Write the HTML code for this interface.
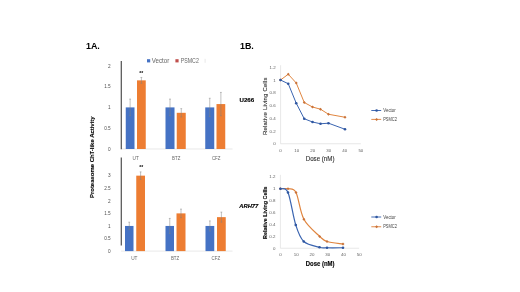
<!DOCTYPE html>
<html><head><meta charset="utf-8"><title>Figure 1</title>
<style>
html,body{margin:0;padding:0;background:#fff;}
body{width:520px;height:292px;overflow:hidden;}
svg{display:block;font-family:"Liberation Sans",sans-serif;}
.b{font-weight:bold;}
</style></head><body>
<svg width="520" height="292" viewBox="0 0 520 292">
<defs><filter id="soft" x="0" y="0" width="520" height="292" filterUnits="userSpaceOnUse"><feGaussianBlur stdDeviation="0.35"/></filter></defs>
<rect width="520" height="292" fill="#fff"/>
<g filter="url(#soft)">

<text class="b" x="86" y="49" font-size="8.9" fill="#000">1A.</text>
<text class="b" x="240" y="49" font-size="8.9" fill="#000">1B.</text>
<text class="b" transform="translate(93.9,198) rotate(-90)" textLength="81.6" lengthAdjust="spacingAndGlyphs" font-size="6.1" fill="#000" stroke="#000" stroke-width="0.1">Proteasome ChT-like Activity</text>
<rect x="147" y="59.2" width="3.2" height="3.2" fill="#4472c4"/>
<text x="151.8" y="63" font-size="6.4" textLength="17.5" lengthAdjust="spacingAndGlyphs" fill="#666">Vector</text>
<rect x="175.4" y="59.2" width="3.2" height="3.2" fill="#c0504d"/>
<text x="180.8" y="63" font-size="6.3" textLength="18" lengthAdjust="spacingAndGlyphs" fill="#666">PSMC2</text>
<rect x="204.8" y="58.8" width="0.5" height="4" fill="#d0d0d0"/>
<line x1="121" y1="149" x2="232.5" y2="149" stroke="#d9d9d9" stroke-width="0.6"/>
<rect x="125.75" y="107.4" width="8.75" height="41.6" fill="#4472c4"/>
<path d="M130.12 99.08V115.72M129.22 99.08h1.8M129.22 115.72h1.8" stroke="#808080" stroke-width="0.5" fill="none"/>
<rect x="137" y="80.36" width="8.75" height="68.64" fill="#ed7d31"/>
<path d="M141.38 77.45V83.27M140.47 77.45h1.8M140.47 83.27h1.8" stroke="#808080" stroke-width="0.5" fill="none"/>
<rect x="165.5" y="107.4" width="9" height="41.6" fill="#4472c4"/>
<path d="M170 99.08V115.72M169.1 99.08h1.8M169.1 115.72h1.8" stroke="#808080" stroke-width="0.5" fill="none"/>
<rect x="176.75" y="112.81" width="9" height="36.19" fill="#ed7d31"/>
<path d="M181.25 108.65V116.97M180.35 108.65h1.8M180.35 116.97h1.8" stroke="#808080" stroke-width="0.5" fill="none"/>
<rect x="205.25" y="107.4" width="9" height="41.6" fill="#4472c4"/>
<path d="M209.75 98.25V116.55M208.85 98.25h1.8M208.85 116.55h1.8" stroke="#808080" stroke-width="0.5" fill="none"/>
<rect x="216.5" y="104.07" width="8.75" height="44.93" fill="#ed7d31"/>
<path d="M220.88 92.42V115.72M219.97 92.42h1.8M219.97 115.72h1.8" stroke="#808080" stroke-width="0.5" fill="none"/>
<line x1="121.3" y1="61" x2="121.3" y2="149.3" stroke="#555" stroke-width="1.25"/>
<text x="110.7" y="150.7" text-anchor="end" font-size="4.7" fill="#505050">0</text>
<text x="110.7" y="129.9" text-anchor="end" font-size="4.7" fill="#505050">0.5</text>
<text x="110.7" y="109.1" text-anchor="end" font-size="4.7" fill="#505050">1</text>
<text x="110.7" y="88.3" text-anchor="end" font-size="4.7" fill="#505050">1.5</text>
<text x="110.7" y="67.5" text-anchor="end" font-size="4.7" fill="#505050">2</text>
<text x="132.55" y="160.3" textLength="6.3" lengthAdjust="spacingAndGlyphs" font-size="5.4" fill="#666">UT</text>
<text x="172.1" y="160.3" textLength="8.2" lengthAdjust="spacingAndGlyphs" font-size="5.4" fill="#666">BTZ</text>
<text x="211.9" y="160.3" textLength="8.6" lengthAdjust="spacingAndGlyphs" font-size="5.4" fill="#666">CFZ</text>
<text class="b" x="141.3" y="74.5" text-anchor="middle" font-size="5" fill="#000">**</text>
<line x1="121" y1="251.1" x2="232.5" y2="251.1" stroke="#d9d9d9" stroke-width="0.6"/>
<rect x="125" y="225.95" width="8.5" height="25.15" fill="#4472c4"/>
<path d="M129.25 222.18V229.72M128.35 222.18h1.8M128.35 229.72h1.8" stroke="#808080" stroke-width="0.5" fill="none"/>
<rect x="136.25" y="175.65" width="8.75" height="75.45" fill="#ed7d31"/>
<path d="M140.62 171.88V179.42M139.72 171.88h1.8M139.72 179.42h1.8" stroke="#808080" stroke-width="0.5" fill="none"/>
<rect x="165.5" y="225.95" width="8.5" height="25.15" fill="#4472c4"/>
<path d="M169.75 218.41V233.5M168.85 218.41h1.8M168.85 233.5h1.8" stroke="#808080" stroke-width="0.5" fill="none"/>
<rect x="176.5" y="213.38" width="9" height="37.72" fill="#ed7d31"/>
<path d="M181 209.1V217.65M180.1 209.1h1.8M180.1 217.65h1.8" stroke="#808080" stroke-width="0.5" fill="none"/>
<rect x="205.5" y="225.95" width="8.75" height="25.15" fill="#4472c4"/>
<path d="M209.88 220.92V230.98M208.97 220.92h1.8M208.97 230.98h1.8" stroke="#808080" stroke-width="0.5" fill="none"/>
<rect x="217" y="217.15" width="8.75" height="33.95" fill="#ed7d31"/>
<path d="M221.38 212.12V222.18M220.47 212.12h1.8M220.47 222.18h1.8" stroke="#808080" stroke-width="0.5" fill="none"/>
<line x1="121.3" y1="157.6" x2="121.3" y2="245.5" stroke="#555" stroke-width="1.25"/>
<text x="110.7" y="252.8" text-anchor="end" font-size="4.7" fill="#505050">0</text>
<text x="110.7" y="240.22" text-anchor="end" font-size="4.7" fill="#505050">0.5</text>
<text x="110.7" y="227.65" text-anchor="end" font-size="4.7" fill="#505050">1</text>
<text x="110.7" y="215.07" text-anchor="end" font-size="4.7" fill="#505050">1.5</text>
<text x="110.7" y="202.5" text-anchor="end" font-size="4.7" fill="#505050">2</text>
<text x="110.7" y="189.92" text-anchor="end" font-size="4.7" fill="#505050">2.5</text>
<text x="110.7" y="177.35" text-anchor="end" font-size="4.7" fill="#505050">3</text>
<text x="131.15" y="260.1" textLength="6.3" lengthAdjust="spacingAndGlyphs" font-size="5.4" fill="#666">UT</text>
<text x="170.9" y="260.1" textLength="8.2" lengthAdjust="spacingAndGlyphs" font-size="5.4" fill="#666">BTZ</text>
<text x="211.5" y="260.1" textLength="8.6" lengthAdjust="spacingAndGlyphs" font-size="5.4" fill="#666">CFZ</text>
<text class="b" x="141.3" y="168.6" text-anchor="middle" font-size="5" fill="#000">**</text>
<line x1="280.6" y1="65.25" x2="280.6" y2="143.75" stroke="#d9d9d9" stroke-width="0.6"/>
<line x1="280.6" y1="143.75" x2="360.85" y2="143.75" stroke="#d9d9d9" stroke-width="0.6"/>
<text x="275.6" y="145.3" text-anchor="end" font-size="4.4" fill="#5e5e5e">0</text>
<text x="275.6" y="132.55" text-anchor="end" font-size="4.4" fill="#5e5e5e">0.2</text>
<text x="275.6" y="119.8" text-anchor="end" font-size="4.4" fill="#5e5e5e">0.4</text>
<text x="275.6" y="107.05" text-anchor="end" font-size="4.4" fill="#5e5e5e">0.6</text>
<text x="275.6" y="94.3" text-anchor="end" font-size="4.4" fill="#5e5e5e">0.8</text>
<text x="275.6" y="81.55" text-anchor="end" font-size="4.4" fill="#5e5e5e">1</text>
<text x="275.6" y="68.8" text-anchor="end" font-size="4.4" fill="#5e5e5e">1.2</text>
<text x="280.6" y="151.9" text-anchor="middle" font-size="4.4" fill="#5e5e5e">0</text>
<text x="296.65" y="151.9" text-anchor="middle" font-size="4.4" fill="#5e5e5e">10</text>
<text x="312.7" y="151.9" text-anchor="middle" font-size="4.4" fill="#5e5e5e">20</text>
<text x="328.75" y="151.9" text-anchor="middle" font-size="4.4" fill="#5e5e5e">30</text>
<text x="344.8" y="151.9" text-anchor="middle" font-size="4.4" fill="#5e5e5e">40</text>
<text x="360.85" y="151.9" text-anchor="middle" font-size="4.4" fill="#5e5e5e">50</text>
<text x="305.7" y="161.05" textLength="28.8" lengthAdjust="spacingAndGlyphs" font-size="6.4" fill="#333" stroke="#333" stroke-width="0.12">Dose (nM)</text>
<path d="M280.5 80L288.25 74.25L296.25 83L304.25 102.5L312.5 107L320.5 109.2L328.5 114.25L345 117.25" stroke="#e0853f" stroke-width="1" fill="none" stroke-linejoin="round"/>
<path d="M280.5 78.5l1.5 1.5l-1.5 1.5l-1.5 -1.5z" fill="#c9733a"/>
<path d="M288.25 72.75l1.5 1.5l-1.5 1.5l-1.5 -1.5z" fill="#c9733a"/>
<path d="M296.25 81.5l1.5 1.5l-1.5 1.5l-1.5 -1.5z" fill="#c9733a"/>
<path d="M304.25 101l1.5 1.5l-1.5 1.5l-1.5 -1.5z" fill="#c9733a"/>
<path d="M312.5 105.5l1.5 1.5l-1.5 1.5l-1.5 -1.5z" fill="#c9733a"/>
<path d="M320.5 107.7l1.5 1.5l-1.5 1.5l-1.5 -1.5z" fill="#c9733a"/>
<path d="M328.5 112.75l1.5 1.5l-1.5 1.5l-1.5 -1.5z" fill="#c9733a"/>
<path d="M345 115.75l1.5 1.5l-1.5 1.5l-1.5 -1.5z" fill="#c9733a"/>
<path d="M280.5 80L288.25 83.75L296.25 103.25L304.25 118.75L312.5 122L320.5 123.75L328.5 123.2L345 129.25" stroke="#3a64b0" stroke-width="1" fill="none" stroke-linejoin="round"/>
<circle cx="280.5" cy="80" r="1.3" fill="#2f56a0"/>
<circle cx="288.25" cy="83.75" r="1.3" fill="#2f56a0"/>
<circle cx="296.25" cy="103.25" r="1.3" fill="#2f56a0"/>
<circle cx="304.25" cy="118.75" r="1.3" fill="#2f56a0"/>
<circle cx="312.5" cy="122" r="1.3" fill="#2f56a0"/>
<circle cx="320.5" cy="123.75" r="1.3" fill="#2f56a0"/>
<circle cx="328.5" cy="123.2" r="1.3" fill="#2f56a0"/>
<circle cx="345" cy="129.25" r="1.3" fill="#2f56a0"/>
<line x1="371.3" y1="110.5" x2="381.2" y2="110.5" stroke="#3a64b0" stroke-width="0.95"/>
<circle cx="376.6" cy="110.5" r="1.3" fill="#2f56a0"/>
<text x="383.2" y="112.1" font-size="4.7" textLength="12.6" lengthAdjust="spacingAndGlyphs" fill="#444">Vector</text>
<line x1="371.3" y1="119.4" x2="381.2" y2="119.4" stroke="#e0853f" stroke-width="0.95"/>
<path d="M376.6 117.9l1.5 1.5l-1.5 1.5l-1.5 -1.5z" fill="#c9733a"/>
<text x="383.2" y="121" font-size="4.7" textLength="13.8" lengthAdjust="spacingAndGlyphs" fill="#444">PSMC2</text>
<text transform="translate(266.8,135) rotate(-90)" textLength="57.5" lengthAdjust="spacing" font-size="6" fill="#333" stroke="#333" stroke-width="0.12">Relative Living Cells</text>
<text class="b" x="239.5" y="101.5" font-size="6.1" fill="#000" stroke="#000" stroke-width="0.15">U266</text>
<line x1="280.4" y1="174.85" x2="280.4" y2="248.25" stroke="#d9d9d9" stroke-width="0.6"/>
<line x1="280.4" y1="248.25" x2="359.15" y2="248.25" stroke="#d9d9d9" stroke-width="0.6"/>
<text x="275.4" y="249.8" text-anchor="end" font-size="4.4" fill="#5e5e5e">0</text>
<text x="275.4" y="237.9" text-anchor="end" font-size="4.4" fill="#5e5e5e">0.2</text>
<text x="275.4" y="226" text-anchor="end" font-size="4.4" fill="#5e5e5e">0.4</text>
<text x="275.4" y="214.1" text-anchor="end" font-size="4.4" fill="#5e5e5e">0.6</text>
<text x="275.4" y="202.2" text-anchor="end" font-size="4.4" fill="#5e5e5e">0.8</text>
<text x="275.4" y="190.3" text-anchor="end" font-size="4.4" fill="#5e5e5e">1</text>
<text x="275.4" y="178.4" text-anchor="end" font-size="4.4" fill="#5e5e5e">1.2</text>
<text x="280.4" y="256.4" text-anchor="middle" font-size="4.4" fill="#5e5e5e">0</text>
<text x="296.15" y="256.4" text-anchor="middle" font-size="4.4" fill="#5e5e5e">10</text>
<text x="311.9" y="256.4" text-anchor="middle" font-size="4.4" fill="#5e5e5e">20</text>
<text x="327.65" y="256.4" text-anchor="middle" font-size="4.4" fill="#5e5e5e">30</text>
<text x="343.4" y="256.4" text-anchor="middle" font-size="4.4" fill="#5e5e5e">40</text>
<text x="359.15" y="256.4" text-anchor="middle" font-size="4.4" fill="#5e5e5e">50</text>
<text x="305.7" y="265.8" textLength="28.8" lengthAdjust="spacingAndGlyphs" font-size="6.4" class="b" fill="#000" stroke="#000" stroke-width="0.12">Dose (nM)</text>
<path d="M280.4 188.75C281.67 188.75 285.4 188.12 288 188.75C290.6 189.38 293.35 187.42 296 192.5C298.65 197.58 299.95 211.93 303.9 219.25C307.85 226.57 315.85 232.69 319.7 236.4C323.55 240.11 323.12 240.23 327 241.5C330.88 242.77 340.33 243.58 343 244" stroke="#e0853f" stroke-width="1.2" fill="none" stroke-linejoin="round"/>
<path d="M280.4 187.25l1.5 1.5l-1.5 1.5l-1.5 -1.5z" fill="#c9733a"/>
<path d="M288 187.25l1.5 1.5l-1.5 1.5l-1.5 -1.5z" fill="#c9733a"/>
<path d="M296 191l1.5 1.5l-1.5 1.5l-1.5 -1.5z" fill="#c9733a"/>
<path d="M303.9 217.75l1.5 1.5l-1.5 1.5l-1.5 -1.5z" fill="#c9733a"/>
<path d="M319.7 234.9l1.5 1.5l-1.5 1.5l-1.5 -1.5z" fill="#c9733a"/>
<path d="M327 240l1.5 1.5l-1.5 1.5l-1.5 -1.5z" fill="#c9733a"/>
<path d="M343 242.5l1.5 1.5l-1.5 1.5l-1.5 -1.5z" fill="#c9733a"/>
<path d="M280.4 188.75C281.67 189.38 285.44 186.46 288 192.5C290.56 198.54 293.12 216.83 295.75 225C298.38 233.17 299.79 237.79 303.75 241.5C307.71 245.21 315.62 246.21 319.5 247.25C323.38 248.29 323.08 247.67 327 247.75C330.92 247.83 340.33 247.75 343 247.75" stroke="#3a64b0" stroke-width="1.2" fill="none" stroke-linejoin="round"/>
<circle cx="280.4" cy="188.75" r="1.3" fill="#2f56a0"/>
<circle cx="288" cy="192.5" r="1.3" fill="#2f56a0"/>
<circle cx="295.75" cy="225" r="1.3" fill="#2f56a0"/>
<circle cx="303.75" cy="241.5" r="1.3" fill="#2f56a0"/>
<circle cx="319.5" cy="247.25" r="1.3" fill="#2f56a0"/>
<circle cx="327" cy="247.75" r="1.3" fill="#2f56a0"/>
<circle cx="343" cy="247.75" r="1.3" fill="#2f56a0"/>
<line x1="371.3" y1="217" x2="381.2" y2="217" stroke="#3a64b0" stroke-width="0.95"/>
<circle cx="376.6" cy="217" r="1.3" fill="#2f56a0"/>
<text x="383.2" y="218.6" font-size="4.7" textLength="12.6" lengthAdjust="spacingAndGlyphs" fill="#444">Vector</text>
<line x1="371.3" y1="226.75" x2="381.2" y2="226.75" stroke="#e0853f" stroke-width="0.95"/>
<path d="M376.6 225.25l1.5 1.5l-1.5 1.5l-1.5 -1.5z" fill="#c9733a"/>
<text x="383.2" y="228.35" font-size="4.7" textLength="13.8" lengthAdjust="spacingAndGlyphs" fill="#444">PSMC2</text>
<text class="b" transform="translate(267,239) rotate(-90)" textLength="52.5" lengthAdjust="spacingAndGlyphs" font-size="5.6" fill="#000" stroke="#000" stroke-width="0.1">Relative Living Cells</text>
<text class="b" x="239.3" y="208.4" font-size="5.9" font-style="italic" textLength="19" lengthAdjust="spacingAndGlyphs" fill="#000" stroke="#000" stroke-width="0.15">ARH77</text>
</g></svg></body></html>
